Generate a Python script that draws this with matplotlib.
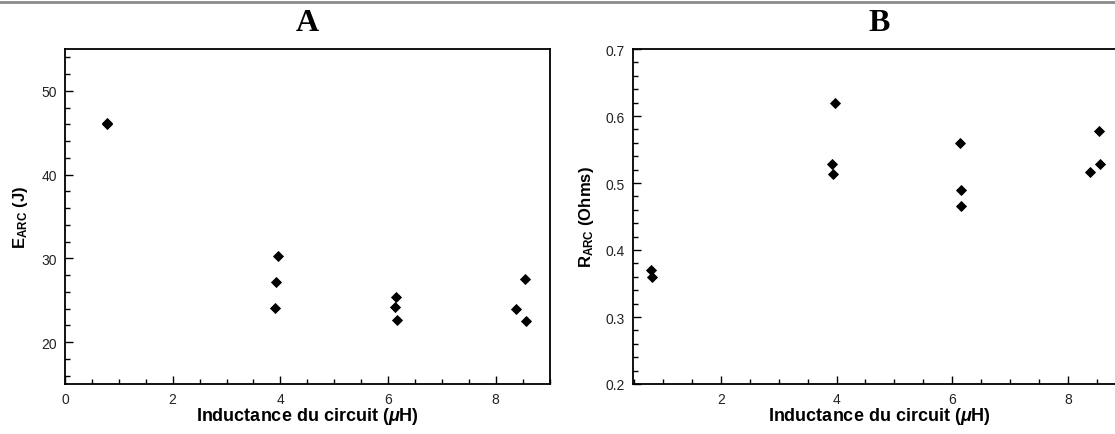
import matplotlib
matplotlib.use('Agg')
import matplotlib.pyplot as plt
from matplotlib.ticker import MultipleLocator
from matplotlib.lines import Line2D

plt.rcParams['font.family'] = ['Liberation Sans', 'DejaVu Sans']
plt.rcParams['mathtext.fontset'] = 'custom'
plt.rcParams['mathtext.rm'] = 'Liberation Sans:bold'
plt.rcParams['mathtext.it'] = 'Liberation Sans:italic:bold'
plt.rcParams['mathtext.bf'] = 'Liberation Sans:bold'

# Panel A : energie d'arc
ind_a = [0.78, 0.78, 3.96, 3.92, 3.91, 6.14, 6.13, 6.16, 8.38, 8.56, 8.55]
e_arc = [46.0, 46.2, 30.3, 27.2, 24.1, 25.4, 24.2, 22.6, 23.9, 22.5, 27.5]

# Panel B : resistance d'arc
ind_b = [0.79, 0.80, 3.97, 3.92, 3.93, 6.13, 6.16, 6.16, 8.54, 8.56, 8.38]
r_arc = [0.370, 0.359, 0.620, 0.529, 0.513, 0.560, 0.490, 0.466, 0.578, 0.528, 0.516]

xlabel = r'Inductance du circuit ($\mu$H)'

fig = plt.figure(figsize=(11.15, 4.35), dpi=100)
W, H = 1115, 435

def px_axes(left, top, right, bottom):
    return fig.add_axes([left / W, 1 - bottom / H, (right - left) / W, (bottom - top) / H])

axA = px_axes(65, 50, 549.5, 385)
axB = px_axes(633.3, 50, 1125.6, 385)

def style(ax):
    for s in ax.spines.values():
        s.set_linewidth(1.3)
    ax.tick_params(which='both', direction='in', top=False, right=False,
                   labelsize=10, labelcolor='#222222', width=1.0)
    ax.tick_params(which='major', length=6, pad=6)
    ax.tick_params(which='minor', length=3.5)
    ax.xaxis.set_minor_locator(MultipleLocator(0.5))
    ax.set_xlabel(xlabel, fontsize=13, fontweight='bold', labelpad=-1)

# A
axA.plot(ind_a, e_arc, 'D', color='black', ms=5.5, mew=0.6)
axA.set_xlim(0, 9)
axA.set_ylim(15, 55)
axA.set_xticks([0, 2, 4, 6, 8])
axA.set_yticks([20, 30, 40, 50])
axA.yaxis.set_minor_locator(MultipleLocator(2))
style(axA)
axA.set_ylabel(r'E$_{\mathrm{ARC}}$ (J)', fontsize=12, fontweight='bold', labelpad=8)
axA.set_title('A', fontfamily='Liberation Serif', fontweight='bold', fontsize=23, pad=14)

# B
axB.plot(ind_b, r_arc, 'D', color='black', ms=5.5, mew=0.6)
axB.set_xlim(0.483, 9.0)
axB.set_ylim(0.2, 0.7)
axB.set_xticks([2, 4, 6, 8])
axB.set_yticks([0.2, 0.3, 0.4, 0.5, 0.6, 0.7])
axB.yaxis.set_minor_locator(MultipleLocator(0.02))
style(axB)
axB.set_ylabel(r'R$_{\mathrm{ARC}}$ (Ohms)', fontsize=12, fontweight='bold', labelpad=7)
axB.set_title('B', fontfamily='Liberation Serif', fontweight='bold', fontsize=23, pad=14)

# trait gris en haut de la figure
fig.add_artist(Line2D([0, 1], [1 - 3 / H, 1 - 3 / H], transform=fig.transFigure,
                      color='#8a8a8a', lw=2))

fig.savefig('out.png', dpi=100)
